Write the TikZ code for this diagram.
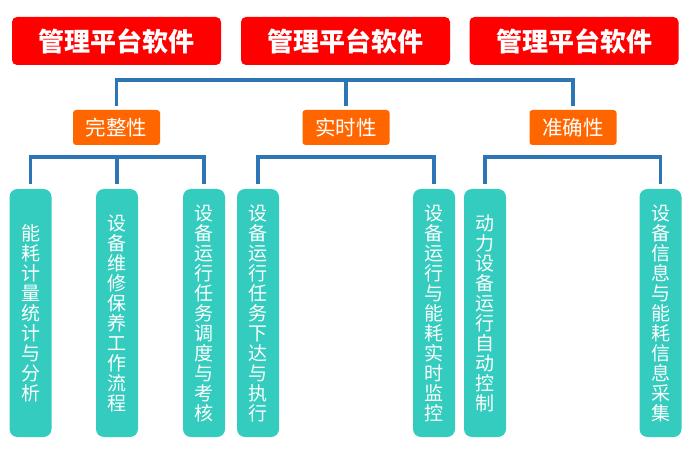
\documentclass[tikz,border=0pt]{standalone}
\usepackage{fontspec}
\setmainfont{Noto Sans CJK SC}
\begin{document}
\begin{tikzpicture}[x=1pt,y=1pt,
  topbox/.style={fill=red, rounded corners=5pt, minimum width=209pt, minimum height=48pt, inner sep=0pt, text=white, font=\fontsize{26}{26}\selectfont\bfseries},
  midbox/.style={fill=orange!85!red, fill={rgb,255:red,255;green,102;blue,0}, rounded corners=3pt, minimum width=87pt, minimum height=35pt, inner sep=0pt, text=white, font=\fontsize{20.5}{20.5}\selectfont},
  leaf/.style={fill={rgb,255:red,51;green,204;blue,190}, rounded corners=8pt, minimum width=42pt, minimum height=248pt, inner sep=0pt, text=white, align=center, font=\fontsize{19}{20}\selectfont},
  bus/.style={draw={rgb,255:red,46;green,117;blue,182}, line width=3.5pt}]
\useasboundingbox (0,0) rectangle (700,450);
% top boxes
\node[topbox] (r1) at (116.5,409) {管理平台软件};
\node[topbox] (r2) at (345.5,409) {管理平台软件};
\node[topbox] (r3) at (574,409) {管理平台软件};
% middle boxes
\node[midbox] (o1) at (116.5,322.5) {完整性};
\node[midbox] (o2) at (346,322.5) {实时性};
\node[midbox] (o3) at (573,322.5) {准确性};
% leaves
\node[leaf] (l1) at (30.5,137) {能\\耗\\计\\量\\统\\计\\与\\分\\析};
\node[leaf] (l2) at (117,137) {设\\备\\维\\修\\保\\养\\工\\作\\流\\程};
\node[leaf] (l3) at (204,137) {设\\备\\运\\行\\任\\务\\调\\度\\与\\考\\核};
\node[leaf] (l4) at (258,137) {设\\备\\运\\行\\任\\务\\下\\达\\与\\执\\行};
\node[leaf] (l5) at (434,137) {设\\备\\运\\行\\与\\能\\耗\\实\\时\\监\\控};
\node[leaf] (l6) at (485,137) {动\\力\\设\\备\\运\\行\\自\\动\\控\\制};
\node[leaf] (l7) at (660.5,137) {设\\备\\信\\息\\与\\能\\耗\\信\\息\\采\\集};
% connectors
\draw[bus] ([yshift=4pt]o1.north) -- ++(0,26) -| ([yshift=4pt]o3.north);
\draw[bus] ([yshift=4pt]o2.north) -- ++(0,26);
\draw[bus] ([yshift=5pt]l1.north) -- ++(0,27) -| ([yshift=5pt]l3.north);
\draw[bus] ([yshift=5pt]l2.north) -- ++(0,27);
\draw[bus] ([yshift=5pt]l4.north) -- ++(0,27) -| ([yshift=5pt]l5.north);
\draw[bus] ([yshift=5pt]l6.north) -- ++(0,27) -| ([yshift=5pt]l7.north);
\end{tikzpicture}
\end{document}
